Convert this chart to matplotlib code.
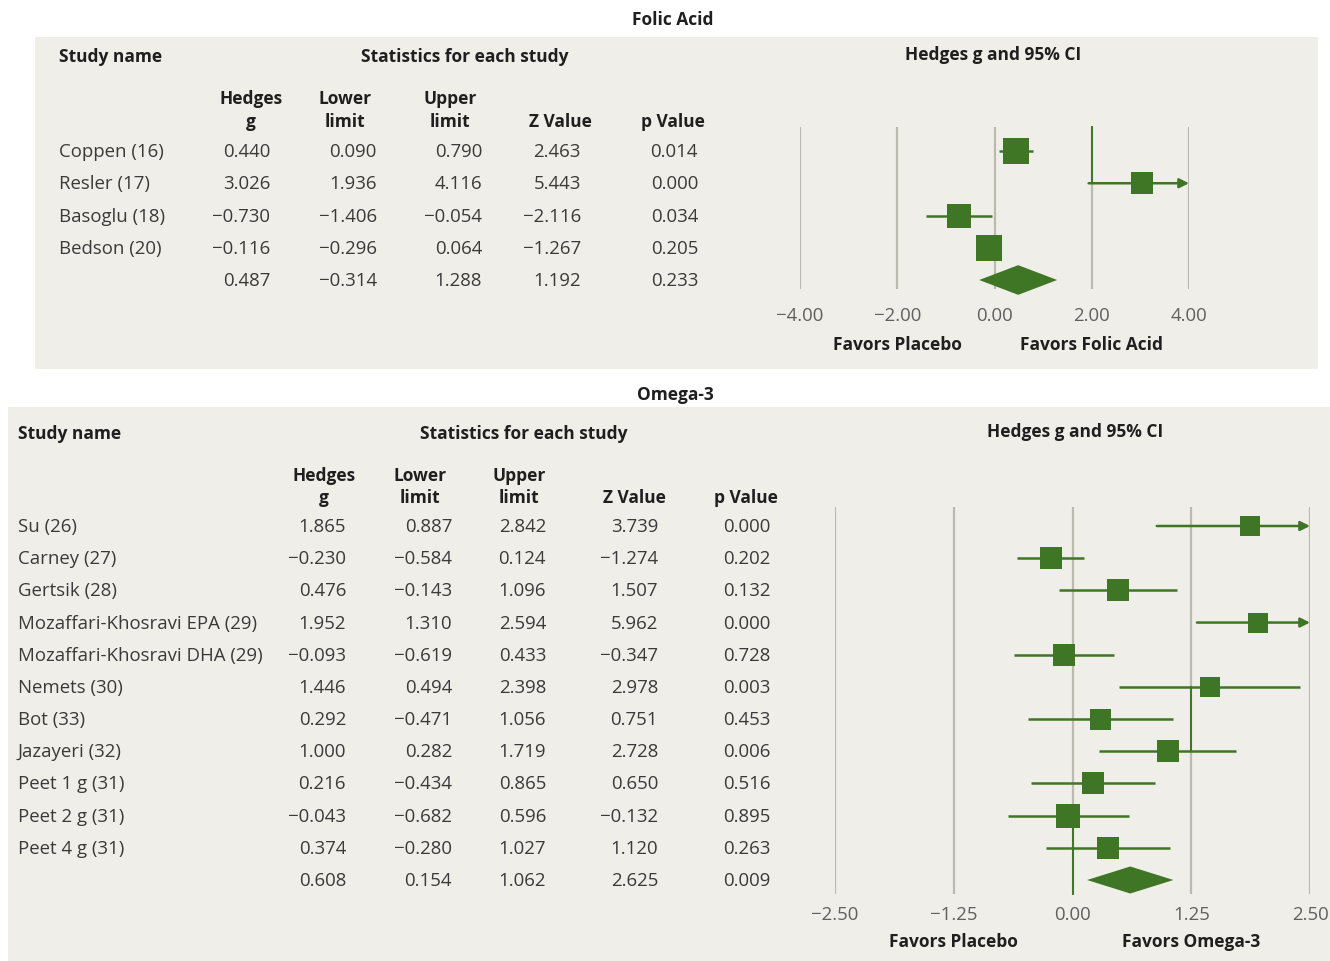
import matplotlib
matplotlib.use('Agg')
import matplotlib.pyplot as plt
import matplotlib.transforms as mtrans
from matplotlib.patches import Rectangle, Polygon

W, H = 1330, 962
FONT = ['Open Sans', 'DejaVu Sans']
plt.rcParams['font.family'] = FONT

# ---------------- data ----------------
fa_studies = ['Coppen (16)', 'Resler (17)', 'Basoglu (18)', 'Bedson (20)']
fa_g = [0.440, 3.026, -0.730, -0.116]
fa_lo = [0.090, 1.936, -1.406, -0.296]
fa_hi = [0.790, 4.116, -0.054, 0.064]
fa_z = [2.463, 5.443, -2.116, -1.267]
fa_p = [0.014, 0.000, 0.034, 0.205]
fa_sum_g, fa_sum_lo, fa_sum_hi, fa_sum_z, fa_sum_p = 0.487, -0.314, 1.288, 1.192, 0.233
fa_weights = [26, 22, 24, 27]          # relative square size
fa_ticks = [-4.0, -2.0, 0.0, 2.0, 4.0]
fa_favors = ['Favors Placebo', 'Favors Folic Acid']

om_studies = ['Su (26)', 'Carney (27)', 'Gertsik (28)', 'Mozaffari-Khosravi EPA (29)',
              'Mozaffari-Khosravi DHA (29)', 'Nemets (30)', 'Bot (33)', 'Jazayeri (32)',
              'Peet 1 g (31)', 'Peet 2 g (31)', 'Peet 4 g (31)']
om_g = [1.865, -0.230, 0.476, 1.952, -0.093, 1.446, 0.292, 1.000, 0.216, -0.043, 0.374]
om_lo = [0.887, -0.584, -0.143, 1.310, -0.619, 0.494, -0.471, 0.282, -0.434, -0.682, -0.280]
om_hi = [2.842, 0.124, 1.096, 2.594, 0.433, 2.398, 1.056, 1.719, 0.865, 0.596, 1.027]
om_z = [3.739, -1.274, 1.507, 5.962, -0.347, 2.978, 0.751, 2.728, 0.650, -0.132, 1.120]
om_p = [0.000, 0.202, 0.132, 0.000, 0.728, 0.003, 0.453, 0.006, 0.516, 0.895, 0.263]
om_sum_g, om_sum_lo, om_sum_hi, om_sum_z, om_sum_p = 0.608, 0.154, 1.062, 2.625, 0.009
om_weights = [20, 23, 22, 20, 23, 20, 21, 22, 22, 24, 22]
om_ticks = [-2.50, -1.25, 0.00, 1.25, 2.50]
om_favors = ['Favors Placebo', 'Favors Omega-3']

# ---------------- style ----------------
GREEN = '#3e7626'
GRID = '#bdb9b0'
PANEL = '#efeee8'
TXT = '#3a3a3a'
HEAD = '#1f1f1f'
TICK = '#606060'
FS = 13.4      # regular text
FSB = 12.5     # bold headers

fig = plt.figure(figsize=(W / 100, H / 100), dpi=100)
fig.patch.set_facecolor('white')


def fx(x):
    return x / W


def fy(y):
    return 1 - y / H


def fmt(v):
    return f'{v:.3f}'.replace('-', '\u2212')


def panel(x0, y0, x1, y1):
    fig.patches.append(Rectangle((fx(x0), fy(y1)), fx(x1 - x0), (y1 - y0) / H,
                                 transform=fig.transFigure, facecolor=PANEL,
                                 edgecolor='none', zorder=-5))


def draw_block(title, title_xy, hdr_y, name_x, stats_hdr_x, ci_hdr_x,
               col_centers, col_rights, head_y1, head_y2, row_y0, row_dy,
               studies, g, lo, hi, z, p, summ, weights,
               ax_box, ticks, tick_pad, favors, favors_y, diamond_h, extra_lines):
    fig.text(fx(title_xy[0]), fy(title_xy[1]), title, ha='center', va='center',
             fontsize=FSB, fontweight='bold', color=HEAD)
    fig.text(fx(name_x), fy(hdr_y), 'Study name', ha='left', va='center',
             fontsize=FSB, fontweight='bold', color=HEAD)
    fig.text(fx(stats_hdr_x), fy(hdr_y), 'Statistics for each study', ha='center',
             va='center', fontsize=FSB, fontweight='bold', color=HEAD)
    fig.text(fx(ci_hdr_x), fy(hdr_y - 2), 'Hedges g and 95% CI', ha='center',
             va='center', fontsize=FSB, fontweight='bold', color=HEAD)
    heads = [('Hedges', 'g'), ('Lower', 'limit'), ('Upper', 'limit'), (None, 'Z Value'),
             (None, 'p Value')]
    for (a, b), cx in zip(heads, col_centers):
        if a:
            fig.text(fx(cx), fy(head_y1), a, ha='center', va='center', fontsize=FSB,
                     fontweight='bold', color=HEAD)
        fig.text(fx(cx), fy(head_y2), b, ha='center', va='center', fontsize=FSB,
                 fontweight='bold', color=HEAD)
    n = len(studies)
    for i in range(n + 1):
        y = row_y0 + i * row_dy
        if i < n:
            fig.text(fx(name_x), fy(y), studies[i], ha='left', va='center',
                     fontsize=FS, color=TXT)
            vals = [g[i], lo[i], hi[i], z[i], p[i]]
        else:
            vals = list(summ)
        for v, rx in zip(vals, col_rights):
            fig.text(fx(rx), fy(y), fmt(v), ha='right', va='center', fontsize=FS,
                     color=TXT)

    # forest axes
    left, right, top, bottom = ax_box
    ax = fig.add_axes([fx(left), fy(bottom), fx(right - left), (bottom - top) / H])
    ax.set_facecolor('none')
    xmin, xmax = ticks[0], ticks[-1]
    ax.set_xlim(xmin, xmax)
    ax.set_ylim((bottom - row_y0) / row_dy, (top - row_y0) / row_dy)
    for s in ax.spines.values():
        s.set_visible(False)
    ax.set_yticks([])
    ax.set_xticks(ticks)
    ax.set_xticklabels([f'{t:.2f}'.replace('-', '\u2212') for t in ticks])
    ax.tick_params(axis='x', length=0, pad=tick_pad, labelsize=FS, labelcolor=TICK)
    for t in ticks:
        ax.axvline(t, color=GRID, lw=1.6, zorder=1)
    for (xv, r0, r1) in extra_lines:
        ax.plot([xv, xv], [r0, r1], color=GREEN, lw=1.4, zorder=2, clip_on=False)

    for i in range(n):
        l, h = lo[i], hi[i]
        if h > xmax:
            ax.annotate('', xy=(xmax, i), xytext=(max(l, xmin), i),
                        arrowprops=dict(arrowstyle='-|>', color=GREEN, lw=1.8,
                                        mutation_scale=14, shrinkA=0, shrinkB=0),
                        zorder=3, annotation_clip=False)
        else:
            ax.plot([max(l, xmin), h], [i, i], color=GREEN, lw=1.8, zorder=3,
                    solid_capstyle='butt')
        ax.plot([g[i]], [i], marker='s', markersize=weights[i] * 0.72, color=GREEN,
                markeredgewidth=0, zorder=4, clip_on=False)
    sg, sl, sh = summ[0], summ[1], summ[2]
    ax.add_patch(Polygon([(sl, n), (sg, n - diamond_h), (sh, n), (sg, n + diamond_h)],
                         closed=True, facecolor=GREEN, edgecolor='none', zorder=4,
                         clip_on=False))

    tr = mtrans.blended_transform_factory(ax.transData, fig.transFigure)
    ax.text(ticks[1], fy(favors_y), favors[0], transform=tr, ha='center', va='center',
            fontsize=FSB, fontweight='bold', color=HEAD)
    ax.text(ticks[3], fy(favors_y), favors[1], transform=tr, ha='center', va='center',
            fontsize=FSB, fontweight='bold', color=HEAD)
    return ax


# panels
panel(35, 38, 1318, 370)
panel(8, 408, 1330, 962)

# Folic acid
draw_block('Folic Acid', (673, 20), 57, 59, 465, 993,
           [251, 345, 450, 560, 673], [270, 377, 482, 581, 698], 99, 122,
           152, 32.25,
           fa_studies, fa_g, fa_lo, fa_hi, fa_z, fa_p,
           (fa_sum_g, fa_sum_lo, fa_sum_hi, fa_sum_z, fa_sum_p), fa_weights,
           (800, 1189, 128, 290), fa_ticks, 12, fa_favors, 345, 0.46,
           [(fa_ticks[3], -0.74, 1)])

# Omega-3
om_n = len(om_studies)
draw_block('Omega-3', (675, 395), 434, 18, 524, 1075,
           [324, 420, 519, 634, 746], [346, 452, 546, 658, 771], 476, 498,
           527, (881 - 527) / om_n,
           om_studies, om_g, om_lo, om_hi, om_z, om_p,
           (om_sum_g, om_sum_lo, om_sum_hi, om_sum_z, om_sum_p), om_weights,
           (835, 1310, 508, 895), om_ticks, 8, om_favors, 942, 0.42,
           [(om_ticks[2], 9, 11.44), (om_ticks[3], 5, 7)])

fig.savefig('out.png', dpi=100, facecolor='white')
